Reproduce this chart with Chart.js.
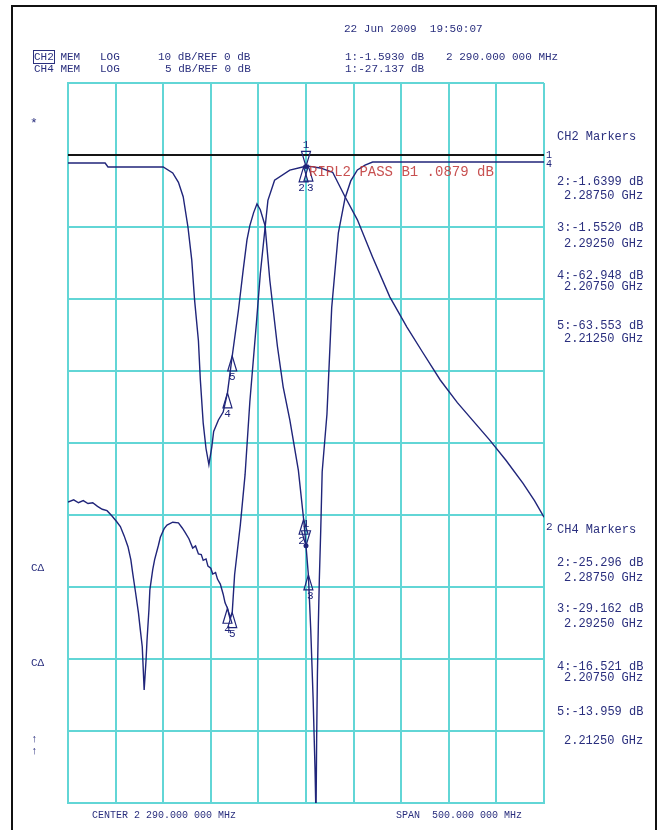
<!DOCTYPE html>
<html>
<head>
<meta charset="utf-8">
<script src="https://cdn.jsdelivr.net/npm/chart.js@4.4.0/dist/chart.umd.min.js"></script>
<style>
  html, body { margin: 0; padding: 0; background: #fff; }
  #wrap { position: relative; width: 662px; height: 830px; overflow: hidden; }
  #chart { position: absolute; left: 0; top: 0; }
  #frame { position: absolute; left: 11px; top: 5px; width: 642px; height: 900px; border: 2px solid #111; }
  .t { position: absolute; font-family: "Liberation Mono", "DejaVu Sans Mono", monospace; font-size: 11px;
       line-height: 12px; color: #2a2f7e; white-space: pre; }
  .m { font-size: 12px; }
  .s { font-size: 10px; }
  .box { outline: 1px solid #2a2f7e; }
</style>
</head>
<body>
<div id="wrap">
  <div id="frame"></div>
  <canvas id="chart" width="662" height="830"></canvas>

  <div class="t" style="left:344px;top:23px;">22 Jun 2009  19:50:07</div>
  <div class="t" style="left:34px;top:51px;"><span class="box">CH2</span> MEM   LOG</div>
  <div class="t" style="left:34px;top:63px;">CH4 MEM   LOG</div>
  <div class="t" style="left:158px;top:51px;">10 dB/REF 0 dB</div>
  <div class="t" style="left:165px;top:63px;">5 dB/REF 0 dB</div>
  <div class="t" style="left:345px;top:51px;">1:-1.5930 dB</div>
  <div class="t" style="left:446px;top:51px;">2 290.000 000 MHz</div>
  <div class="t" style="left:345px;top:63px;">1:-27.137 dB</div>
  <div class="t" style="left:30px;top:118px;font-size:13px;">*</div>
  <div class="t" style="left:31px;top:562px;">CΔ</div>
  <div class="t" style="left:31px;top:657px;">CΔ</div>
  <div class="t" style="left:31px;top:733px;">↑</div>
  <div class="t" style="left:31px;top:745px;">↑</div>

  <div class="t m" style="left:557px;top:131px;">CH2 Markers</div>
  <div class="t m" style="left:557px;top:176px;">2:-1.6399 dB</div>
  <div class="t m" style="left:564px;top:190px;">2.28750 GHz</div>
  <div class="t m" style="left:557px;top:222px;">3:-1.5520 dB</div>
  <div class="t m" style="left:564px;top:238px;">2.29250 GHz</div>
  <div class="t m" style="left:557px;top:270px;">4:-62.948 dB</div>
  <div class="t m" style="left:564px;top:281px;">2.20750 GHz</div>
  <div class="t m" style="left:557px;top:320px;">5:-63.553 dB</div>
  <div class="t m" style="left:564px;top:333px;">2.21250 GHz</div>

  <div class="t m" style="left:557px;top:524px;">CH4 Markers</div>
  <div class="t m" style="left:557px;top:557px;">2:-25.296 dB</div>
  <div class="t m" style="left:564px;top:572px;">2.28750 GHz</div>
  <div class="t m" style="left:557px;top:603px;">3:-29.162 dB</div>
  <div class="t m" style="left:564px;top:618px;">2.29250 GHz</div>
  <div class="t m" style="left:557px;top:661px;">4:-16.521 dB</div>
  <div class="t m" style="left:564px;top:672px;">2.20750 GHz</div>
  <div class="t m" style="left:557px;top:706px;">5:-13.959 dB</div>
  <div class="t m" style="left:564px;top:735px;">2.21250 GHz</div>

  <div class="t s" style="left:92px;top:810px;">CENTER 2 290.000 000 MHz</div>
  <div class="t s" style="left:396px;top:810px;">SPAN  500.000 000 MHz</div>
</div>

<script>
// sweep: center 2290 MHz, span 500 MHz
const xMin = 2040;
const xMax = 2540;

// CH2 (10 dB/div, ref 0 dB) - memory trace, MHz / dB
const ch2Freq = [2040, 2046, 2051, 2056, 2061, 2066, 2071, 2076, 2081, 2086, 2091, 2095, 2099, 2103, 2106,
  2108, 2111, 2114, 2116, 2118, 2119, 2120, 2122, 2123, 2125, 2126, 2129, 2131, 2135, 2137, 2141, 2144,
  2150, 2156, 2160, 2163, 2167, 2171, 2174, 2177, 2180, 2182, 2185, 2187, 2190, 2192, 2195, 2197, 2200,
  2203, 2205, 2207.5, 2210, 2212.5, 2215, 2221, 2226, 2231, 2238, 2242, 2247, 2250, 2257, 2273, 2287.5,
  2290, 2292.5, 2305, 2318, 2331, 2344, 2360, 2378, 2396, 2413, 2431, 2449, 2466, 2483, 2500, 2518, 2530, 2540];
const ch2Db = [-48.2, -47.9, -48.3, -48.0, -48.4, -48.3, -48.8, -49.2, -49.4, -50.1, -50.9, -51.6, -52.9, -54.4, -56.2,
  -58.1, -60.8, -63.6, -66.0, -68.3, -71.3, -74.3, -70.1, -67.4, -63.2, -60.4, -57.6, -56.2, -54.2, -53.1, -51.9, -51.4,
  -51.0, -51.1, -51.8, -52.4, -53.3, -54.6, -54.3, -55.4, -55.5, -56.3, -56.1, -57.1, -57.4, -58.2, -58.0, -58.9, -59.6,
  -61.0, -62.2, -62.948, -64.3, -63.553, -58.3, -51.4, -44.4, -34.3, -23.2, -16.5, -10.1, -6.3, -3.5, -2.1, -1.6399,
  -1.593, -1.552, -1.8, -2.4, -5.8, -9.0, -14.2, -19.7, -23.9, -27.5, -31.25, -34.4, -37.0, -39.6, -42.4, -45.6, -48.0, -50.3];

// CH4 (5 dB/div, ref 0 dB)
const ch4Freq = [2040, 2079, 2082, 2140, 2150, 2156, 2161, 2166, 2170, 2173, 2177, 2179, 2182, 2185, 2188, 2191,
  2193, 2198, 2203, 2207.5, 2212.5, 2219, 2224, 2228, 2231, 2235, 2238.5, 2242, 2247, 2252, 2260, 2266, 2273,
  2282, 2287.5, 2290, 2292.5, 2295, 2297.5, 2299.5, 2300.5, 2301.2, 2302, 2303, 2304, 2305.5, 2307, 2312,
  2317, 2324, 2331, 2337, 2344, 2352, 2360, 2540];
const ch4Db = [-0.56, -0.56, -0.83, -0.83, -1.25, -1.9, -2.9, -5.0, -7.3, -10.1, -12.9, -15.6, -18.6, -20.4, -21.5, -20.3,
  -19.2, -18.4, -17.85, -16.521, -13.959, -10.8, -8.0, -5.9, -4.9, -4.0, -3.4, -3.8, -4.9, -8.7, -13.3, -16.1, -18.4,
  -21.9, -25.296, -27.137, -29.162, -33.0, -37.8, -42.7, -46.0, -40.5, -36.0, -32.5, -29.5, -26.0, -22.0, -18.0,
  -10.6, -5.4, -3.0, -1.8, -1.04, -0.7, -0.49, -0.49];

// limit line at 0 dB
const limitFreq = [2040, 2540];
const limitDb = [0, 0];

// markers 1..5
const markerLabels = ['1', '2', '3', '4', '5'];
const markerFreq = [2290, 2287.5, 2292.5, 2207.5, 2212.5];
const ch2MarkerDb = [-1.593, -1.6399, -1.552, -62.948, -63.553];
const ch4MarkerDb = [-27.137, -25.296, -29.162, -16.521, -13.959];

const traceColor = '#20257a';
const gridColor = '#62d6d6';

function pts(xs, ys) {
  return xs.map((x, i) => ({ x: x, y: ys[i] }));
}

const markerPlugin = {
  id: 'markers',
  afterDatasetsDraw(chart) {
    const ctx = chart.ctx;
    const xs = chart.scales.x;
    ctx.save();
    ctx.strokeStyle = traceColor;
    ctx.fillStyle = traceColor;
    ctx.lineWidth = 1.2;
    ctx.font = '11px "Liberation Mono", monospace';
    ctx.textAlign = 'center';
    const draw = (vals, axis) => {
      const ys = chart.scales[axis];
      vals.forEach((v, i) => {
        const px = xs.getPixelForValue(markerFreq[i]);
        const py = ys.getPixelForValue(v);
        const w = 4.5, h = 15;
        ctx.beginPath();
        if (i === 0) {
          // active marker: inverted triangle above the point
          ctx.moveTo(px, py);
          ctx.lineTo(px - w, py - h);
          ctx.lineTo(px + w, py - h);
          ctx.closePath();
          ctx.stroke();
          ctx.beginPath();
          ctx.arc(px, py, 2.5, 0, Math.PI * 2);
          ctx.fill();
          ctx.textBaseline = 'bottom';
          ctx.fillText(markerLabels[i], px, py - h - 1);
        } else {
          ctx.moveTo(px, py);
          ctx.lineTo(px - w, py + h);
          ctx.lineTo(px + w, py + h);
          ctx.closePath();
          ctx.stroke();
          ctx.textBaseline = 'top';
          const dx = i === 1 ? -2 : (i === 2 ? 2 : 0);
          ctx.fillText(markerLabels[i], px + dx, py + h + 1);
        }
      });
    };
    draw(ch2MarkerDb, 'y');
    draw(ch4MarkerDb, 'y2');

    // trace end / reference symbols at right edge
    const ca = chart.chartArea;
    ctx.textAlign = 'left';
    ctx.textBaseline = 'middle';
    ctx.font = '10px "Liberation Mono", monospace';
    ctx.fillText('1', ca.right + 2, chart.scales.y.getPixelForValue(0));
    ctx.fillText('4', ca.right + 2, chart.scales.y2.getPixelForValue(ch4Db[ch4Db.length - 1]) + 2);
    ctx.font = '11px "Liberation Mono", monospace';
    ctx.fillText('2', ca.right + 2, chart.scales.y.getPixelForValue(ch2Db[ch2Db.length - 1]) + 10);

    // limit test text
    ctx.fillStyle = 'rgba(190, 50, 50, 0.85)';
    ctx.font = '14px "Liberation Mono", monospace';
    ctx.textBaseline = 'middle';
    ctx.fillText('RIPL2 PASS B1 .0879 dB', 309, 172);
    ctx.restore();
  }
};

new Chart(document.getElementById('chart'), {
  type: 'line',
  data: {
    datasets: [
      { label: 'limit', data: pts(limitFreq, limitDb), borderColor: '#151515', borderWidth: 1.8,
        pointRadius: 0, yAxisID: 'y' },
      { label: 'CH2', data: pts(ch2Freq, ch2Db), borderColor: traceColor, borderWidth: 1.4,
        pointRadius: 0, yAxisID: 'y' },
      { label: 'CH4', data: pts(ch4Freq, ch4Db), borderColor: traceColor, borderWidth: 1.4,
        pointRadius: 0, yAxisID: 'y2' }
    ]
  },
  options: {
    responsive: false,
    animation: false,
    layout: { padding: { left: 68, top: 83, right: 118, bottom: 27 } },
    plugins: { legend: { display: false }, tooltip: { enabled: false } },
    scales: {
      x: {
        type: 'linear', min: xMin, max: xMax,
        ticks: { display: false, stepSize: 50 },
        grid: { color: gridColor, lineWidth: 2, drawTicks: false },
        border: { display: true, color: gridColor, width: 2 }
      },
      y: {
        min: -90, max: 10,
        ticks: { display: false, stepSize: 10 },
        grid: { color: gridColor, lineWidth: 2, drawTicks: false },
        border: { display: true, color: gridColor, width: 2 }
      },
      y2: { display: false, min: -45, max: 5 }
    }
  },
  plugins: [markerPlugin]
});
</script>
</body>
</html>
